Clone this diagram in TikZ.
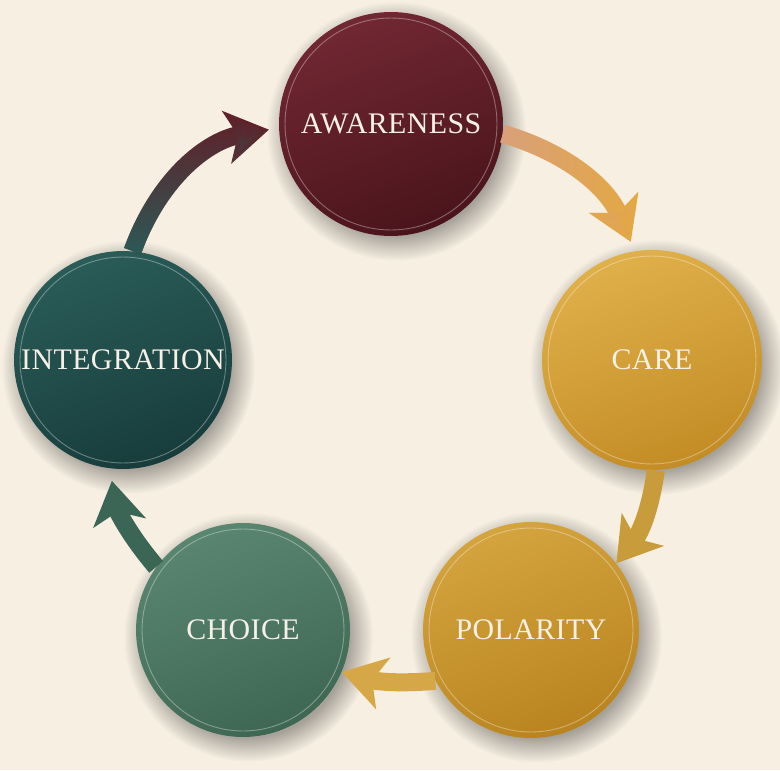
\documentclass[tikz,border=0pt]{standalone}
\usepackage{fontspec}
\setmainfont[LetterSpace=1.5]{Liberation Serif}
\usetikzlibrary{arrows.meta,fadings,backgrounds}

\definecolor{paper}{HTML}{F6EFE2}
\definecolor{ink}{HTML}{F6F0E6}
\definecolor{maroonA}{HTML}{712833}
\definecolor{maroonB}{HTML}{4A141B}
\definecolor{goldA}{HTML}{E0B04A}
\definecolor{goldB}{HTML}{C38C25}
\definecolor{ochreA}{HTML}{D4A43E}
\definecolor{ochreB}{HTML}{B9841F}
\definecolor{sageA}{HTML}{5A8670}
\definecolor{sageB}{HTML}{3E6753}
\definecolor{tealA}{HTML}{2A5C58}
\definecolor{tealB}{HTML}{173C3B}
\definecolor{peach}{HTML}{D9A07E}

\tikzset{font=\fontsize{17}{20}\selectfont}
\tikzset{stage/.style={circle, minimum size=#1, inner sep=0pt, text=ink,
    path picture={\draw[white, opacity=0.35, line width=0.5pt]
      (path picture bounding box.center) circle (#1/2-0.12cm);}}}
\tikzset{flow/.style={line width=0.36cm, -{Stealth[length=0.85cm, width=1.05cm, inset=0.22cm]}}}

\begin{document}
\begin{tikzpicture}[x=0.02cm, y=-0.02cm]
  \useasboundingbox (0,0) rectangle (780,770);

  \node[stage=4.48cm, top color=maroonA, bottom color=maroonB, shading angle=20] (awareness) at (391,124) {AWARENESS};
  \node[stage=4.40cm, top color=goldA, bottom color=goldB, shading angle=20] (care) at (652,360) {CARE};
  \node[stage=4.32cm, top color=ochreA, bottom color=ochreB, shading angle=20] (polarity) at (531,630) {POLARITY};
  \node[stage=4.28cm, top color=sageA, bottom color=sageB, shading angle=20] (choice) at (243,630) {CHOICE};
  \node[stage=4.36cm, top color=tealA, bottom color=tealB, shading angle=20] (integration) at (123,360) {INTEGRATION};

  % paper and soft shadows
  \begin{pgfonlayer}{background}
    \fill[paper] (0,0) rectangle (780,770);
    \foreach \n/\r in {awareness/2.24, care/2.20, polarity/2.16, choice/2.14, integration/2.18}
      \fill[black, opacity=0.32, path fading=circle with fuzzy edge 20 percent]
        ([shift={(3pt,-4pt)}]\n.center) circle (\r cm+0.35cm);
  \end{pgfonlayer}

  % the cycle
  \draw[flow, draw=goldA!85!orange, shorten >=0.2cm] (awareness.-5) to[bend left=25] (care.99);
  \draw[flow, draw=peach, path fading=east, shorten >=0.2cm] (awareness.-5) to[bend left=25] (care.99);
  \draw[flow, draw=ochreA!95!black] (care.-88) to[bend left=15] (polarity.38);
  \draw[flow, draw=goldA!95!black] (polarity.208) to[bend left=10] (choice.-23);
  \draw[flow, draw=sageB!85!tealA, shorten >=0.25cm] (choice.144) to[bend left=15] (integration.263);
  \draw[flow, draw=maroonA!85!black, shorten >=0.2cm] (integration.85) to[bend left=30] (awareness.182);
  \draw[flow, draw=tealA, path fading=north, shorten >=0.2cm] (integration.85) to[bend left=30] (awareness.182);
\end{tikzpicture}
\end{document}
